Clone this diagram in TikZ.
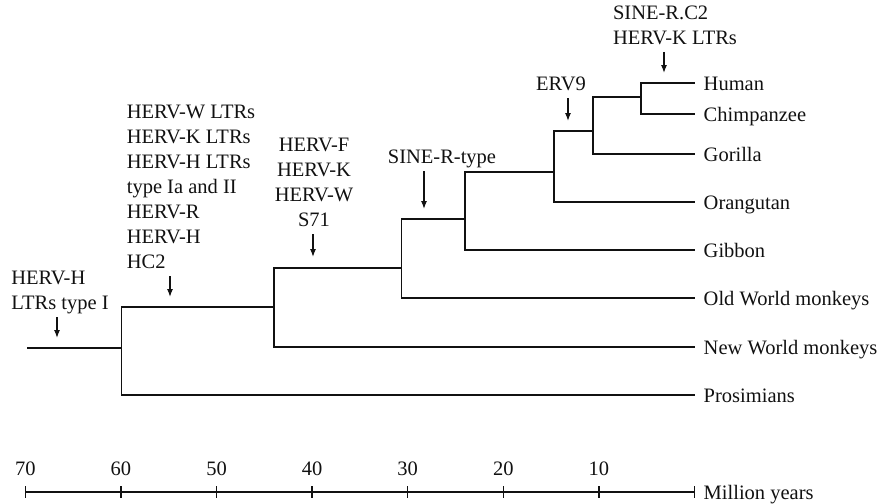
\documentclass[tikz,border=0pt]{standalone}
\usepackage{fontspec}
\setmainfont{Liberation Serif}
\usetikzlibrary{arrows.meta,positioning}
\definecolor{TreeInk}{HTML}{111111}

\begin{document}
\begin{tikzpicture}[
  x=1pt,y=-1pt,
  txt/.style={font=\fontsize{20.5}{25}\selectfont,text=TreeInk,inner sep=0pt},
  leaf/.style={txt,anchor=west,inner xsep=9pt,text height=14pt,text depth=0pt},
  evlabel/.style={txt,text depth=0pt},
  branch/.style={draw=TreeInk,line width=1.4pt},
  evarrow/.style={-{Latex[length=8pt,width=6pt]},draw=TreeInk,line width=1.2pt,shorten <=7pt}
]
\useasboundingbox (0,0) rectangle (885,503);
\coordinate (root) at (27,348);
\coordinate (nA) at (121.5,348);
\coordinate (nB) at (274,307);
\coordinate (nC) at (401.5,268);
\coordinate (nD) at (465,219);
\coordinate (nE) at (554,172);
\coordinate (nF) at (593,131);
\coordinate (nG) at (641,97);
\node[leaf] (human) at (694.5,83) {Human};
\node[leaf] (chimp) at (694.5,114) {Chimpanzee};
\node[leaf] (gorilla) at (694.5,154) {Gorilla};
\node[leaf] (orang) at (694.5,202) {Orangutan};
\node[leaf] (gibbon) at (694.5,250) {Gibbon};
\node[leaf] (owm) at (694.5,298) {Old World monkeys};
\node[leaf] (nwm) at (694.5,347) {New World monkeys};
\node[leaf] (prosim) at (694.5,395) {Prosimians};
\draw[branch] (human.west) -| (nG) |- (chimp.west);
\draw[branch] (nG) -| (nF) |- (gorilla.west);
\draw[branch] (nF) -| (nE) |- (orang.west);
\draw[branch] (nE) -| (nD) |- (gibbon.west);
\draw[branch] (nD) -| (nC) |- (owm.west);
\draw[branch] (nC) -| (nB) |- (nwm.west);
\draw[branch] (nB) -| (nA) |- (prosim.west);
\draw[branch] (nA) -- (root);
\coordinate (tipRoot) at (57,338);
\coordinate (tipA) at (170,297);
\coordinate (tipB) at (313,257);
\coordinate (tipC) at (424,209);
\coordinate (tipE) at (568,121);
\coordinate (tipG) at (664,73);
\node[evlabel,align=left,above=28pt of tipRoot,xshift=3pt] (lblRoot) {HERV-H\\LTRs type I};
\node[evlabel,align=left,above=28pt of tipA,xshift=21pt] (lblA) {HERV-W LTRs\\HERV-K LTRs\\HERV-H LTRs\\type Ia and II\\HERV-R\\HERV-H\\HC2};
\node[evlabel,align=center,above=30pt of tipB,xshift=1pt] (lblB) {HERV-F\\HERV-K\\HERV-W\\S71};
\node[evlabel,above=45pt of tipC,xshift=18pt] (lblC) {SINE-R-type};
\node[evlabel,above=30pt of tipE,xshift=-7pt] (lblE) {ERV9};
\node[evlabel,align=left,above=28pt of tipG,xshift=11pt] (lblG) {SINE-R.C2\\HERV-K LTRs};
\draw[evarrow] (lblRoot.south -| tipRoot) -- (tipRoot);
\draw[evarrow] (lblA.south -| tipA) -- (tipA);
\draw[evarrow] (lblB.south -| tipB) -- (tipB);
\draw[evarrow] (lblC.south -| tipC) -- (tipC);
\draw[evarrow] (lblE.south -| tipE) -- (tipE);
\draw[evarrow] (lblG.south -| tipG) -- (tipG);
\coordinate (ax0) at (25.4,492);
\node[leaf] (axlabel) at (694.5,492) {Million years};
\draw[branch] (ax0) -- (axlabel.west);
\foreach \t in {70,60,50,40,30,20,10,0}
  \draw[branch] ({694.5-9.5586*\t},486) -- ++(0,12);
\foreach \t in {70,60,50,40,30,20,10}
  \node[txt,anchor=base] (tick\t) at ({694.5-9.5586*\t},475) {\t};
\end{tikzpicture}
\end{document}
